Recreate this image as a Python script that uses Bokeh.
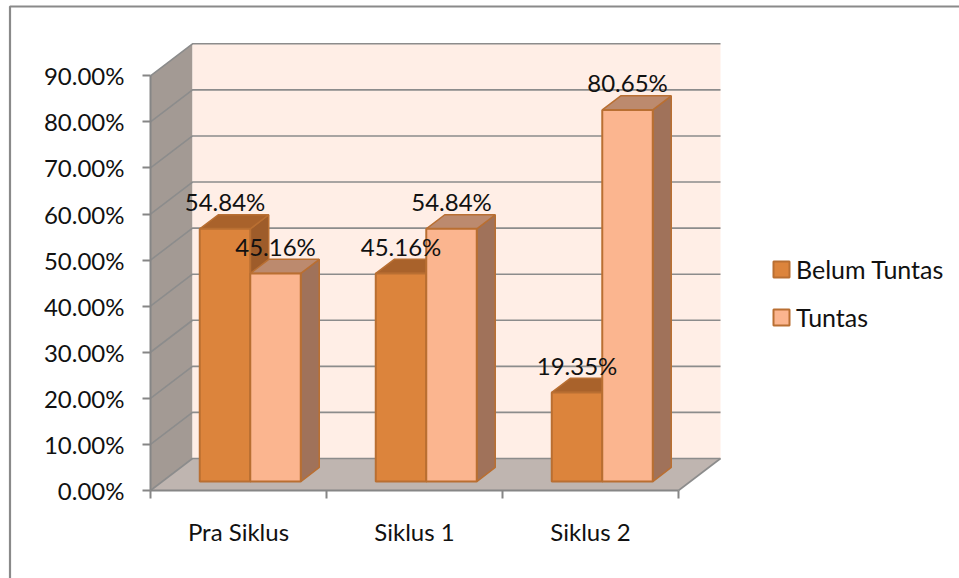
from bokeh.plotting import figure
from bokeh.models import (Range1d, LinearAxis, FixedTicker, PrintfTickFormatter,
                          ColumnDataSource, Legend, LegendItem)
from bokeh.core.properties import value
from bokeh.embed import file_html
from bokeh.resources import INLINE

categories = ["Pra Siklus", "Siklus 1", "Siklus 2"]
belum_tuntas = [54.84, 45.16, 19.35]
tuntas = [45.16, 54.84, 80.65]
y_ticks = [0, 10, 20, 30, 40, 50, 60, 70, 80, 90]

W, H = 959, 578
X0, Y0 = 150, 490           # pixel position of the axes' origin
CAT_PX, PCT_PX = 176.0, 4.608
DEPTH_X = 42 / CAT_PX       # depth of the 3-D box, data units
DEPTH_Y = 32 / PCT_PX
BAR_W = 50.5 / CAT_PX
F_FRONT, F_BACK = 0.28, 0.72
FONT = "Lato"
FS = "24px"
GRID = "#8c8c8c"

p = figure(width=W, height=H, output_backend="svg", toolbar_location=None,
           x_range=Range1d(-X0 / CAT_PX, (W - X0) / CAT_PX),
           y_range=Range1d((Y0 - H) / PCT_PX, Y0 / PCT_PX),
           min_border=0, min_border_left=0, min_border_right=0, min_border_top=0,
           min_border_bottom=0, x_axis_type=None, y_axis_type=None,
           outline_line_color=None)
p.grid.visible = False
xmax = len(categories)
ymax = y_ticks[-1]

# chart-area border
bx, by = (9.5 - X0) / CAT_PX, (Y0 - 6) / PCT_PX
p.line([bx, bx, (W - X0) / CAT_PX], [(Y0 - H) / PCT_PX, by, by], line_color="#8a8a8a", line_width=2.2)

# walls and floor
p.patch([0, DEPTH_X, DEPTH_X, 0], [0, DEPTH_Y, ymax + DEPTH_Y, ymax], fill_color="#a39a94", line_color=None)
p.patch([DEPTH_X, xmax + DEPTH_X, xmax + DEPTH_X, DEPTH_X],
        [DEPTH_Y, DEPTH_Y, ymax + DEPTH_Y, ymax + DEPTH_Y], fill_color="#ffeee6", line_color=None)
p.patch([0, xmax, xmax + DEPTH_X, DEPTH_X], [0, 0, DEPTH_Y, DEPTH_Y], fill_color="#bfb5b0", line_color=None)

# gridlines
for v in y_ticks:
    p.line([0, DEPTH_X, xmax + DEPTH_X], [v, v + DEPTH_Y, v + DEPTH_Y], line_color=GRID, line_width=1.6)
p.line([xmax, xmax + DEPTH_X], [0, DEPTH_Y], line_color=GRID, line_width=1.6)

# bars
series = [
    ("Belum Tuntas", belum_tuntas, 0, "#dc843c", "#a9622b", "#9e5c2a", "#b96f32"),
    ("Tuntas", tuntas, 1, "#fbb58f", "#bc8a6e", "#a0725a", "#b96f32"),
]
legend_items = []
fx, fy = F_FRONT * DEPTH_X, F_FRONT * DEPTH_Y
bx2, by2 = F_BACK * DEPTH_X, F_BACK * DEPTH_Y
for name, vals, k, face, top, side, edge in series:
    left = [i + 0.5 - BAR_W + k * BAR_W + fx for i in range(len(vals))]
    right = [l + BAR_W for l in left]
    dx, dy = bx2 - fx, by2 - fy
    base = [fy] * len(vals)
    tops = [v + fy for v in vals]
    p.patches([[r, r + dx, r + dx, r] for r in right],
              [[b, b + dy, t + dy, t] for b, t in zip(base, tops)],
              fill_color=side, line_color=edge, line_width=1.5)
    p.patches([[l, l + dx, r + dx, r] for l, r in zip(left, right)],
              [[t, t + dy, t + dy, t] for t in tops],
              fill_color=top, line_color=edge, line_width=1.5)
    src = ColumnDataSource(dict(left=left, right=right, bottom=base, top=tops))
    q = p.quad(left="left", right="right", bottom="bottom", top="top", source=src,
               fill_color=face, line_color=edge, line_width=2)
    legend_items.append(LegendItem(label=name, renderers=[q]))

# data labels
for name, vals, k, *_ in series:
    cx = [i + 0.5 - BAR_W / 2 + k * BAR_W + fx for i in range(len(vals))]
    ly = [v + fy for v in vals]
    p.text(cx, ly, text=[f"{v:.2f}%" for v in vals], y_offset=-27, text_align="center",
           text_baseline="middle", text_font=value(FONT), text_font_size=FS, text_color="#111111")

# axes
yax = LinearAxis(fixed_location=0, ticker=FixedTicker(ticks=y_ticks), bounds=(0, ymax),
                 formatter=PrintfTickFormatter(format="%.2f%%"))
yax.axis_line_color = "#868686"
yax.axis_line_width = 2
yax.major_tick_line_color = "#868686"
yax.major_tick_line_width = 2
yax.major_tick_out = 8
yax.major_tick_in = 0
yax.minor_tick_line_color = None
yax.major_label_standoff = 18
yax.major_label_text_font = FONT
yax.major_label_text_font_size = FS
yax.major_label_text_color = "#111111"
p.add_layout(yax, "left")

xax = LinearAxis(fixed_location=0, ticker=FixedTicker(ticks=list(range(xmax + 1))), bounds=(0, xmax))
xax.axis_line_color = "#868686"
xax.axis_line_width = 2
xax.major_tick_line_color = "#868686"
xax.major_tick_line_width = 2
xax.major_tick_out = 8
xax.major_tick_in = 0
xax.minor_tick_line_color = None
xax.major_label_text_font_size = "0px"
xax.major_label_text_color = None
p.add_layout(xax, "below")

cax = LinearAxis(fixed_location=0, ticker=FixedTicker(ticks=[i + 0.5 for i in range(xmax)]),
                 major_label_overrides={i + 0.5: c for i, c in enumerate(categories)})
cax.axis_line_color = None
cax.major_tick_line_color = None
cax.minor_tick_line_color = None
cax.major_tick_out = 0
cax.major_tick_in = 0
cax.major_label_standoff = 26
cax.major_label_text_font = FONT
cax.major_label_text_font_size = FS
cax.major_label_text_color = "#111111"
p.add_layout(cax, "below")

legend = Legend(items=legend_items, location=(771, H - 332), orientation="vertical",
                background_fill_alpha=0, border_line_color=None, padding=0, margin=0,
                glyph_width=20, glyph_height=20, label_standoff=5, spacing=18,
                label_text_font=FONT, label_text_font_size="25px", label_text_color="#111111",
                label_height=17)
p.add_layout(legend, "center")

open("out.html", "w").write(file_html(p, INLINE))
